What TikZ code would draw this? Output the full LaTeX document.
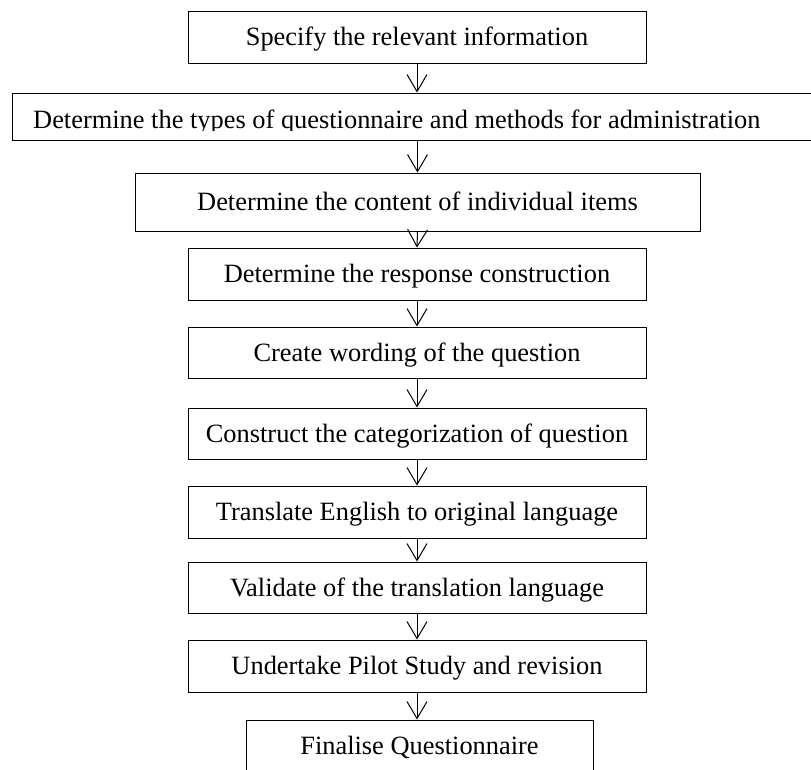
\documentclass[tikz,border=0pt]{standalone}
\usepackage{fontspec}
\setmainfont{Liberation Serif}
\usetikzlibrary{arrows.meta}
\newcommand\stagefont{\fontsize{26.4}{30}\selectfont}
\begin{document}
\begin{tikzpicture}[x=1pt,y=-1pt,
  stage/.style={draw, line width=1pt, inner sep=0pt, text height=17.4pt, text depth=0pt,
                font=\stagefont, minimum width=458pt, minimum height=52pt},
  flow/.style={line width=1pt, -{Straight Barb[length=17pt,width=20pt]}}]
\clip (0,0) rectangle (811,769);
% process stages, top to bottom
\node[stage] (b1) at (417,37) {Specify the relevant information};
\node[stage, minimum width=828pt, minimum height=47pt] (b2) at (426,116.5) {};
\begin{scope}
  % the wide stage's caption is cut off just under its baseline
  \clip (0,93) rectangle (811,130);
  \node[font=\stagefont, inner sep=0pt, anchor=base west] (b2text) at (33,128)
    {Determine the types of questionnaire and methods for administration};
\end{scope}
\node[stage, minimum width=565pt, minimum height=58pt] (b3) at (417.5,202) {Determine the content of individual items};
\node[stage] (b4) at (417,274) {Determine the response construction};
\node[stage, minimum height=51pt] (b5) at (417,352.5) {Create wording of the question};
\node[stage, minimum height=51pt] (b6) at (417,433.5) {Construct the categorization of question};
\node[stage] (b7) at (417,512) {Translate English to original language};
\node[stage, minimum height=51pt] (b8) at (417,587.5) {Validate of the translation language};
\node[stage] (b9) at (417,666) {Undertake Pilot Study and revision};
\node[stage, minimum width=347pt] (b10) at (419.5,746) {Finalise Questionnaire};
% connectors
\draw[flow] (b1.south) -- (b1.south |- b2.north);
\draw[flow] (b3.north |- b2.south) -- (b3.north);
\draw[flow] (b3.south) -- (b4.north);
\draw[flow] (b4.south) -- (b5.north);
\draw[flow] (b5.south) -- (b6.north);
\draw[flow] (b6.south) -- (b7.north);
\draw[flow] (b7.south) -- (b8.north);
\draw[flow] (b8.south) -- (b9.north);
\draw[flow] (b9.south) -- (b9.south |- b10.north);
\end{tikzpicture}
\end{document}
